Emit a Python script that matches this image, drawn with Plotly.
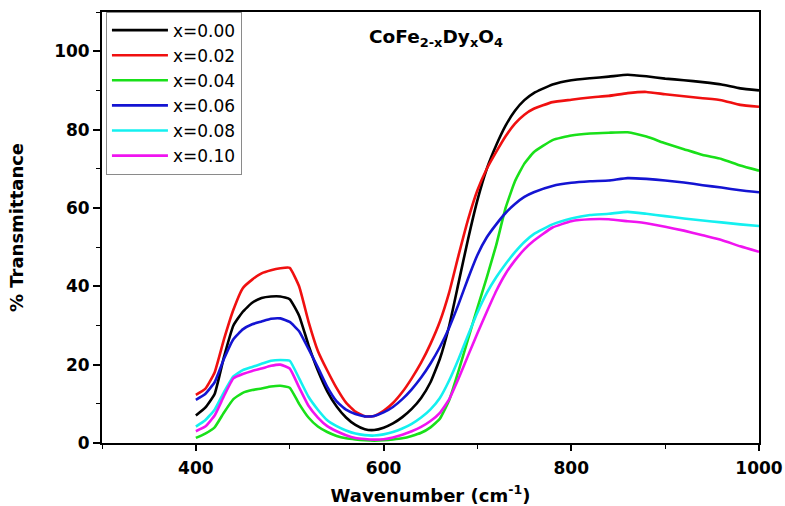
import plotly.graph_objects as go

# Wavenumber grid (cm^-1)
wavenumber = [400, 410, 420, 430, 440, 450, 460, 470, 480, 490, 500,
              510, 520, 530, 540, 550, 560, 570, 580, 590, 600,
              610, 620, 630, 640, 650, 660, 670, 680, 690, 700,
              710, 720, 730, 740, 750, 760, 780, 800, 820, 840,
              860, 880, 900, 920, 940, 960, 980, 1000]

# % transmittance for each Dy content
t_x000 = [7.0, 9.0, 12.5, 22.0, 30.0, 33.5, 35.8, 37.0, 37.4, 37.4, 36.7,
          32.5, 25.0, 18.5, 13.2, 9.3, 6.5, 4.6, 3.5, 3.3, 3.9,
          5.0, 6.6, 8.7, 11.5, 15.5, 21.5, 30.0, 41.0, 52.0, 62.0,
          70.0, 76.0, 81.0, 84.8, 87.5, 89.3, 91.5, 92.6, 93.1, 93.5,
          94.0, 93.6, 93.0, 92.6, 92.1, 91.5, 90.5, 90.0]
t_x002 = [12.3, 13.8, 18.0, 26.5, 34.0, 39.5, 41.7, 43.3, 44.1, 44.6, 44.7,
          40.0, 31.0, 23.5, 18.5, 14.0, 10.3, 8.0, 6.8, 6.9, 8.2,
          10.2, 13.0, 16.5, 20.5, 25.3, 31.0, 38.5, 48.0, 57.0, 64.5,
          70.0, 74.3, 78.3, 81.5, 83.8, 85.3, 87.0, 87.6, 88.2, 88.6,
          89.3, 89.6, 89.0, 88.5, 88.0, 87.5, 86.3, 85.8]
t_x004 = [1.3, 2.4, 4.0, 7.8, 11.2, 12.8, 13.5, 13.9, 14.4, 14.6, 14.1,
          10.0, 6.5, 4.2, 2.8, 1.8, 1.2, 0.9, 0.7, 0.6, 0.7,
          0.9, 1.2, 1.8, 2.6, 4.0, 6.2, 11.0, 18.5, 26.5, 34.5,
          42.3, 50.5, 60.0, 66.8, 71.3, 74.2, 77.3, 78.5, 79.0, 79.2,
          79.3, 78.2, 76.5, 75.0, 73.5, 72.5, 70.8, 69.5]
t_x006 = [11.0, 12.5, 15.5, 21.5, 26.5, 29.0, 30.3, 31.0, 31.7, 31.8, 30.9,
          28.5, 24.0, 19.3, 14.3, 10.6, 8.5, 7.4, 6.8, 6.9, 7.8,
          9.2, 11.2, 13.7, 16.7, 20.3, 24.5, 29.5, 35.5, 42.0, 48.0,
          52.5, 55.8, 58.7, 61.0, 62.8, 64.0, 65.6, 66.4, 66.8, 67.0,
          67.6, 67.4, 67.0, 66.5, 65.8, 65.2, 64.5, 64.0]
t_x008 = [4.2, 5.8, 8.5, 13.0, 17.0, 18.6, 19.4, 20.2, 21.0, 21.2, 21.0,
          16.5, 11.8, 8.5, 5.8, 4.3, 3.2, 2.4, 2.0, 1.9, 2.2,
          2.8, 3.7, 4.9, 6.5, 8.6, 11.5, 16.0, 21.5, 27.5, 33.3,
          38.3, 42.3, 45.7, 48.7, 51.3, 53.3, 55.8, 57.3, 58.2, 58.5,
          59.0, 58.5, 57.9, 57.3, 56.8, 56.3, 55.8, 55.4]
t_x010 = [3.0, 4.2, 7.0, 12.0, 16.5, 17.6, 18.4, 19.0, 19.7, 20.0, 19.0,
          14.2, 9.5, 6.5, 4.3, 3.0, 2.0, 1.3, 1.0, 0.85, 0.95,
          1.4, 2.1, 3.0, 4.1, 5.6, 7.7, 11.2, 16.5, 22.3, 28.0,
          33.5, 38.8, 43.2, 46.6, 49.4, 51.6, 55.0, 56.6, 57.1, 57.1,
          56.6, 56.1, 55.2, 54.2, 53.0, 51.8, 50.2, 48.8]

labels = ["x=0.00", "x=0.02", "x=0.04", "x=0.06", "x=0.08", "x=0.10"]
series = [t_x000, t_x002, t_x004, t_x006, t_x008, t_x010]
colors = ["#000000", "#F01010", "#19E019", "#1414D2", "#14F0F0", "#F014F0"]

fig = go.Figure()
for name, vals, col in zip(labels, series, colors):
    fig.add_trace(go.Scatter(
        x=wavenumber, y=vals, name=name, mode="lines",
        line=dict(color=col, width=2.6, shape="spline", smoothing=0.4),
    ))

tick_font = dict(family="DejaVu Sans", size=17, color="black", weight="bold")
title_font = dict(family="DejaVu Sans", size=18, color="black", weight="bold")

fig.update_xaxes(
    range=[300, 1000], tick0=400, dtick=200, automargin=False,
    showgrid=False, zeroline=False,
    showline=True, linecolor="black", linewidth=1.8, mirror=True,
    ticks="outside", ticklen=6, tickwidth=1.5, tickcolor="black",
    ticklabelstandoff=3,
    minor=dict(dtick=100, tick0=300, ticks="outside", ticklen=4,
               tickwidth=1.2, tickcolor="black"),
    tickfont=tick_font,
    title=dict(text="Wavenumber (cm<sup>-1</sup>)", font=title_font, standoff=12),
)
fig.update_yaxes(
    range=[0, 110], tick0=0, dtick=20, automargin=False,
    showgrid=False, zeroline=False,
    showline=True, linecolor="black", linewidth=1.8, mirror=True,
    ticks="outside", ticklen=7, tickwidth=1.5, tickcolor="black",
    minor=dict(dtick=10, ticks="outside", ticklen=4,
               tickwidth=1.2, tickcolor="black"),
    tickfont=tick_font,
    title=dict(text="% Transmittance", font=title_font, standoff=26),
)

fig.add_annotation(
    text="CoFe<sub>2-x</sub>Dy<sub>x</sub>O<sub>4</sub>",
    xref="paper", yref="paper", x=0.403, y=0.94,
    xanchor="left", yanchor="middle", showarrow=False,
    font=dict(family="DejaVu Sans", size=18.5, color="black", weight="bold"),
)

fig.update_layout(
    width=785, height=506,
    margin=dict(l=102, r=26, t=12, b=63),
    paper_bgcolor="white", plot_bgcolor="white",
    showlegend=True,
    legend=dict(
        x=0.006, y=1.001, xanchor="left", yanchor="top",
        bgcolor="white", bordercolor="#8a8a8a", borderwidth=1,
        font=dict(family="DejaVu Sans", size=17, color="black"),
        itemwidth=56, tracegroupgap=0,
    ),
)

fig.write_html("out.html")
